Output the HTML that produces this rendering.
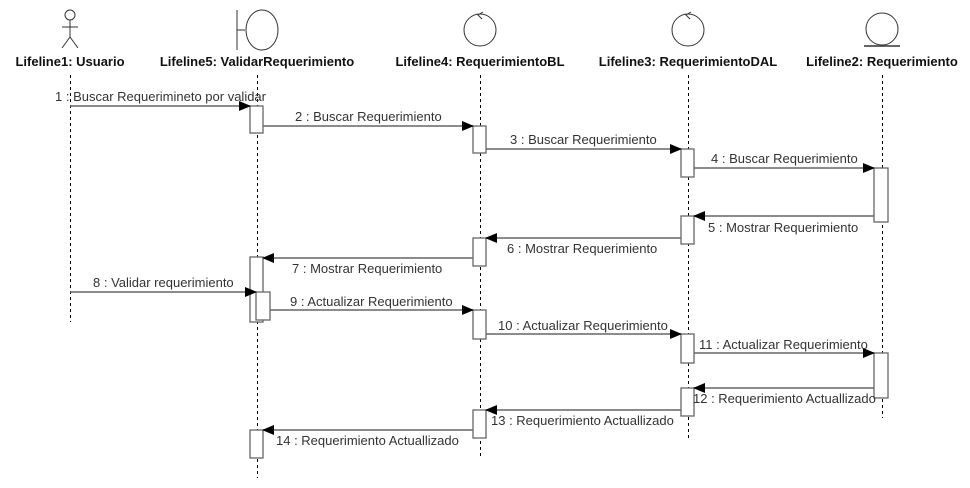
<!DOCTYPE html>
<html><head><meta charset="utf-8"><style>
html,body{margin:0;padding:0;background:#fff;}
svg{display:block;}
text{font-family:"Liberation Sans",Arial,sans-serif;}
.t{font-size:13px;fill:#333;}
.h{font-size:13px;font-weight:bold;fill:#111;}
.ll{stroke:#000;stroke-width:1;stroke-dasharray:3,3;}
.b{fill:#fff;stroke:#666;stroke-width:1.3;}
.m{stroke:#666;stroke-width:1.5;fill:none;}
</style></head><body>
<svg width="970" height="488" viewBox="0 0 970 488">
<defs><marker id="a" markerWidth="12" markerHeight="10" refX="11" refY="5" orient="auto" markerUnits="userSpaceOnUse"><path d="M0,0 L12,5 L0,10 Z" fill="#000"/></marker></defs>
<g stroke="#333" fill="none" stroke-width="1">
<circle cx="70" cy="15" r="5"/><line x1="70" y1="20" x2="70" y2="37"/><line x1="62" y1="27" x2="78" y2="27"/><line x1="70" y1="37" x2="62" y2="48"/><line x1="70" y1="37" x2="78" y2="48"/>
<line x1="237" y1="10" x2="237" y2="50"/><line x1="237" y1="30" x2="245" y2="30"/><ellipse cx="262" cy="30" rx="16" ry="20"/>
<circle cx="480" cy="30" r="16"/><path d="M483,12 L478,15 L482,19"/>
<circle cx="688" cy="30" r="16"/><path d="M691,12 L686,15 L690,19"/>
<circle cx="882" cy="29" r="16"/><line x1="864" y1="46" x2="900" y2="46" stroke-width="1.5"/>
</g>
<text class="h" x="70" y="66" text-anchor="middle">Lifeline1: Usuario</text>
<text class="h" x="257" y="66" text-anchor="middle">Lifeline5: ValidarRequerimiento</text>
<text class="h" x="480" y="66" text-anchor="middle">Lifeline4: RequerimientoBL</text>
<text class="h" x="688" y="66" text-anchor="middle">Lifeline3: RequerimientoDAL</text>
<text class="h" x="882" y="66" text-anchor="middle">Lifeline2: Requerimiento</text>
<line class="ll" x1="70.5" y1="75" x2="70.5" y2="322"/>
<line class="ll" x1="257.5" y1="75" x2="257.5" y2="478"/>
<line class="ll" x1="480.5" y1="75" x2="480.5" y2="456"/>
<line class="ll" x1="688.5" y1="75" x2="688.5" y2="441"/>
<line class="ll" x1="882.5" y1="75" x2="882.5" y2="418"/>
<rect class="b" x="250" y="106" width="13" height="27"/>
<rect class="b" x="473" y="126" width="13" height="27"/>
<rect class="b" x="681" y="149" width="13" height="28"/>
<rect class="b" x="874" y="168" width="14" height="54"/>
<rect class="b" x="681" y="216" width="13" height="28"/>
<rect class="b" x="473" y="238" width="13" height="28"/>
<rect class="b" x="250" y="257" width="13" height="65"/>
<rect class="b" x="256" y="292" width="14" height="28"/>
<rect class="b" x="473" y="310" width="13" height="29"/>
<rect class="b" x="681" y="334" width="13" height="29"/>
<rect class="b" x="874" y="353" width="14" height="45"/>
<rect class="b" x="681" y="388" width="13" height="28"/>
<rect class="b" x="473" y="410" width="13" height="28"/>
<rect class="b" x="250" y="430" width="13" height="28"/>
<line class="m" x1="70" y1="106" x2="250" y2="106" marker-end="url(#a)"/>
<text class="t" x="55" y="101">1 : Buscar Requerimineto por validar</text>
<line class="m" x1="263" y1="126" x2="473" y2="126" marker-end="url(#a)"/>
<text class="t" x="295" y="121">2 : Buscar Requerimiento</text>
<line class="m" x1="486" y1="149" x2="681" y2="149" marker-end="url(#a)"/>
<text class="t" x="510" y="144">3 : Buscar Requerimiento</text>
<line class="m" x1="694" y1="168" x2="874" y2="168" marker-end="url(#a)"/>
<text class="t" x="711" y="163">4 : Buscar Requerimiento</text>
<line class="m" x1="874" y1="216" x2="694" y2="216" marker-end="url(#a)"/>
<text class="t" x="708" y="232">5 : Mostrar Requerimiento</text>
<line class="m" x1="681" y1="238" x2="486" y2="238" marker-end="url(#a)"/>
<text class="t" x="507" y="253">6 : Mostrar Requerimiento</text>
<line class="m" x1="473" y1="258" x2="263" y2="258" marker-end="url(#a)"/>
<text class="t" x="292" y="273">7 : Mostrar Requerimiento</text>
<line class="m" x1="70" y1="292" x2="256" y2="292" marker-end="url(#a)"/>
<text class="t" x="93" y="287">8 : Validar requerimiento</text>
<line class="m" x1="270" y1="310" x2="473" y2="310" marker-end="url(#a)"/>
<text class="t" x="290" y="306">9 : Actualizar Requerimiento</text>
<line class="m" x1="486" y1="334" x2="681" y2="334" marker-end="url(#a)"/>
<text class="t" x="498" y="330">10 : Actualizar Requerimiento</text>
<line class="m" x1="694" y1="353" x2="874" y2="353" marker-end="url(#a)"/>
<text class="t" x="699" y="349">11 : Actualizar Requerimiento</text>
<line class="m" x1="874" y1="388" x2="694" y2="388" marker-end="url(#a)"/>
<text class="t" x="693" y="403">12 : Requerimiento Actuallizado</text>
<line class="m" x1="681" y1="410" x2="486" y2="410" marker-end="url(#a)"/>
<text class="t" x="491" y="425">13 : Requerimiento Actuallizado</text>
<line class="m" x1="473" y1="430" x2="263" y2="430" marker-end="url(#a)"/>
<text class="t" x="276" y="445">14 : Requerimiento Actuallizado</text>
</svg>
</body></html>
